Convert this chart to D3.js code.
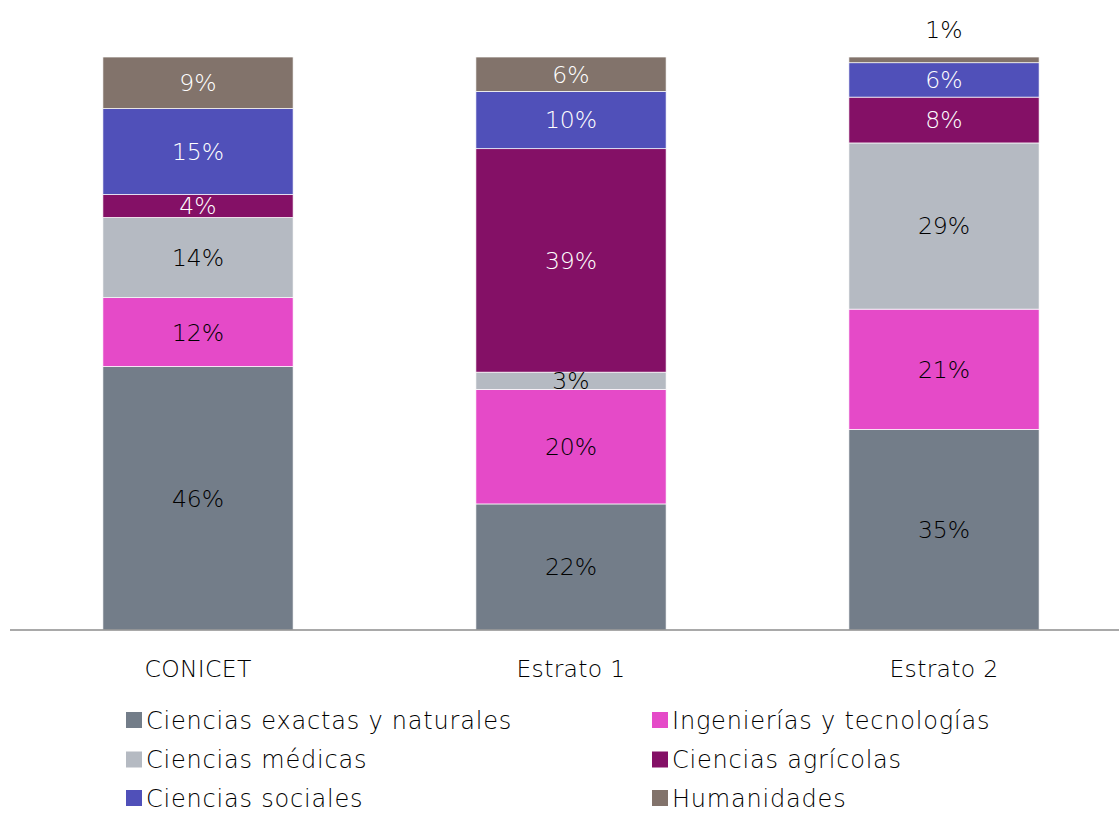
<!DOCTYPE html>
<html><head><meta charset="utf-8">
<script src="https://cdn.jsdelivr.net/npm/d3@7"></script>
<style>body{margin:0;background:#fff}svg{display:block}</style>
</head><body><svg id="c" width="1119" height="813"></svg>
<script>
const categories = ["CONICET", "Estrato 1", "Estrato 2"];
const seriesNames = ["Ciencias exactas y naturales", "Ingenierías y tecnologías", "Ciencias médicas", "Ciencias agrícolas", "Ciencias sociales", "Humanidades"];
const exactas = [46, 22, 35];
const ingenierias = [12, 20, 21];
const medicas = [14, 3, 29];
const agricolas = [4, 39, 8];
const sociales = [15, 10, 6];
const humanidades = [9, 6, 1];
const colors = ["#737D89", "#E54AC8", "#B5BAC2", "#841066", "#5050B9", "#82736B"];
const labelColors = ["#000", "#000", "#000", "#fff", "#fff", "#fff"];

const seriesValues = [exactas, ingenierias, medicas, agricolas, sociales, humanidades];
const rows = categories.map((c, i) => {
  const r = {cat: c};
  seriesNames.forEach((s, j) => r[s] = seriesValues[j][i]);
  return r;
});
const stack = d3.stack().keys(seriesNames)(rows);

const font = "'DejaVu Sans', sans-serif";
const fw = 200;
const svg = d3.select("#c");
const x = d3.scaleBand().domain(categories).range([11.5, 1130.5]).paddingInner(0.49).paddingOuter(0.245);
const y = d3.scaleLinear().domain([0, 100]).range([630, 57]);

const g = svg.append("g");
stack.forEach((layer, j) => {
  g.selectAll(null).data(layer).enter().append("rect")
    .attr("x", d => x(d.data.cat))
    .attr("width", x.bandwidth())
    .attr("y", d => y(d[1]))
    .attr("height", d => y(d[0]) - y(d[1]))
    .attr("fill", colors[j])
    .attr("stroke", "#fff").attr("stroke-width", 0.7);
});
stack.forEach((layer, j) => {
  g.selectAll(null).data(layer).enter().append("text")
    .attr("x", d => x(d.data.cat) + x.bandwidth() / 2)
    .attr("y", d => (d[1] - d[0]) < 2 ? y(d[1]) - 27 : y((d[0] + d[1]) / 2))
    .attr("dy", "0.36em")
    .attr("text-anchor", "middle")
    .attr("font-family", font).attr("font-weight", fw).attr("font-size", 23.5)
    .attr("fill", d => (d[1] - d[0]) < 2 ? "#000" : labelColors[j])
    .text(d => (d[1] - d[0]) + "%");
});

// axis
const ax = svg.append("g").attr("transform", "translate(0,630)")
  .call(d3.axisBottom(x).tickSize(0).tickPadding(30));
ax.select(".domain").attr("d", "M10,0H1119").attr("stroke", "#8c8c8c").attr("stroke-width", 1.3);
ax.selectAll("text").attr("font-family", font).attr("font-weight", fw).attr("font-size", 23.5)
  .attr("letter-spacing", 0.3).attr("fill", "#000");

// legend
const legCols = [126, 652];
const legRows = [720, 759.5, 798];
const leg = svg.append("g");
seriesNames.forEach((s, j) => {
  const lx = legCols[j % 2], ly = legRows[Math.floor(j / 2)];
  leg.append("rect").attr("x", lx).attr("y", ly - 8).attr("width", 16).attr("height", 16).attr("fill", colors[j]);
  leg.append("text").attr("x", lx + 20).attr("y", ly).attr("dy", "0.36em")
    .attr("font-family", font).attr("font-weight", fw).attr("font-size", 24)
    .attr("letter-spacing", 0.8).attr("fill", "#000").text(s);
});
</script></body></html>
